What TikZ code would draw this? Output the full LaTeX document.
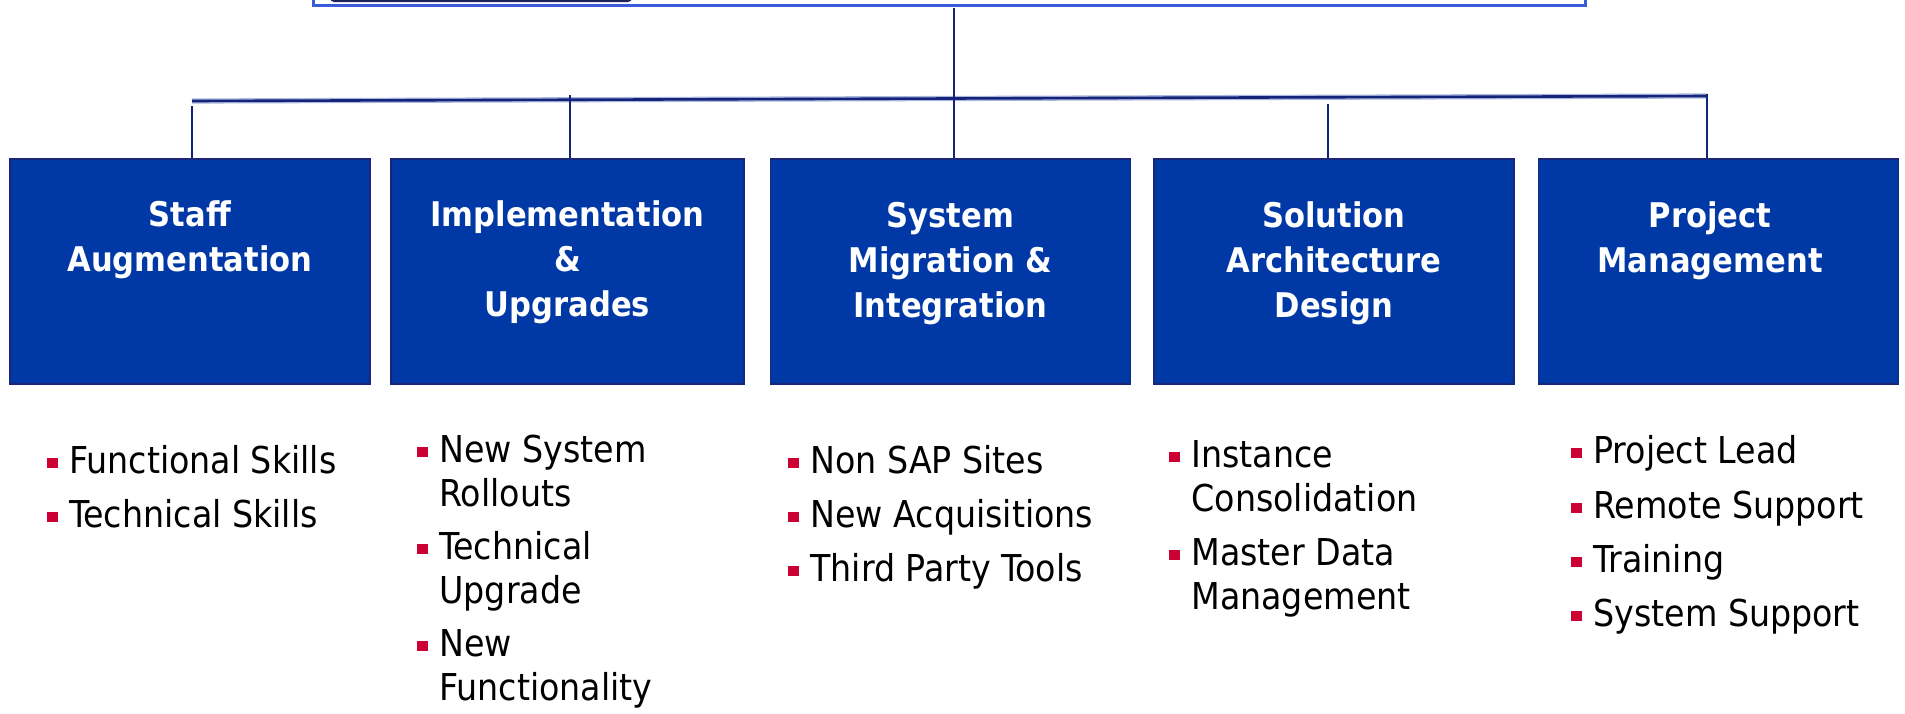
\documentclass[tikz,border=0pt]{standalone}
\usepackage{fontspec}
\setmainfont{DejaVu Sans Condensed}
\usetikzlibrary{positioning}

\definecolor{boxblue}{RGB}{0,57,166}
\definecolor{boxedge}{RGB}{26,38,120}
\definecolor{linknavy}{RGB}{20,36,122}
\definecolor{linkhalo}{RGB}{170,182,220}
\definecolor{frameblue}{RGB}{58,91,219}
\definecolor{tabshade}{RGB}{30,35,90}
\definecolor{bulred}{RGB}{204,0,51}

% red square in front of each item, and the indent of a wrapped line
\newcommand{\bul}{\makebox[11pt][l]{\textcolor{bulred}{\rule[2.3pt]{5.5pt}{5.2pt}}}}
\newcommand{\ind}{\hspace*{11pt}}

\tikzset{
  area/.style={draw=boxedge, line width=0.8pt, fill=boxblue, minimum width=180pt, minimum height=112.5pt, inner sep=0pt},
  areatitle/.style={anchor=base, inner sep=0pt, text=white, font=\fontsize{17}{22.5}\selectfont\bfseries},
  itemlist/.style={anchor=base west, inner sep=0pt, font=\fontsize{18.5}{22}\selectfont},
  link/.style={draw=linknavy, line width=1pt},
}

\begin{document}
\begin{tikzpicture}[x=0.5pt,y=-0.5pt]
      \useasboundingbox (0,0) rectangle (1905,713);
      \clip (0,0) rectangle (1905,713);

      % frame of the title above, cut off by the page
      \fill[tabshade, rounded corners=2pt] (330,-10) rectangle (632,2);
      \draw[frameblue, line width=1.5pt] (313,-20) rectangle (1585,5);

      % the five service areas
      \node[area] (b1) at (190,271.5) {};
      \node[area, minimum width=176.5pt] (b2) at (567.5,271.5) {};
      \node[area] (b3) at (950.5,271.5) {};
      \node[area] (b4) at (1334,271.5) {};
      \node[area] (b5) at (1718.5,271.5) {};

      \node[areatitle] (t1) at (190,226.5) {\begin{tabular}[t]{@{}c@{}}Staff\\Augmentation\end{tabular}};
      \node[areatitle] (t2) at (567.5,226) {\begin{tabular}[t]{@{}c@{}}Implementation\\\&\\Upgrades\end{tabular}};
      \node[areatitle] (t3) at (950.5,227) {\begin{tabular}[t]{@{}c@{}}System\\Migration \&\\Integration\end{tabular}};
      \node[areatitle] (t4) at (1334,227) {\begin{tabular}[t]{@{}c@{}}Solution\\Architecture\\Design\end{tabular}};
      \node[areatitle] (t5) at (1710,227) {\begin{tabular}[t]{@{}c@{}}Project\\Management\end{tabular}};

      % tree lines
      \coordinate (barL) at (192,101);
      \coordinate (barR) at (1707,96);
      \draw[linkhalo, line width=2.6pt] (barL) -- (barR);
      \draw[link, line width=1.3pt] (barL) -- (barR);

      \coordinate (stem) at (954,8);
      \draw[link] (stem) -- (stem |- b3.north);
      \coordinate (j1) at (192,106);
      \draw[link] (j1) -- (j1 |- b1.north);
      \coordinate (j2) at (570,95);
      \draw[link] (j2) -- (j2 |- b2.north);
      \coordinate (j4) at (1328,104);
      \draw[link] (j4) -- (j4 |- b4.north);
      \coordinate (j5) at (1707,94);
      \draw[link] (j5) -- (j5 |- b5.north);

      % what each area covers
      \node[itemlist] (l1) at (47,473) {\begin{tabular}[t]{@{}l@{}}\bul Functional Skills\\[5pt] \bul Technical Skills\end{tabular}};
      \node[itemlist] (l2) at (417,462) {\begin{tabular}[t]{@{}l@{}}\bul New System\\ \ind Rollouts\\[4.5pt] \bul Technical\\ \ind Upgrade\\[4.5pt] \bul New\\ \ind Functionality\end{tabular}};
      \node[itemlist] (l3) at (788,473) {\begin{tabular}[t]{@{}l@{}}\bul Non SAP Sites\\[5pt] \bul New Acquisitions\\[5pt] \bul Third Party Tools\end{tabular}};
      \node[itemlist] (l4) at (1169,467) {\begin{tabular}[t]{@{}l@{}}\bul Instance\\ \ind Consolidation\\[5pt] \bul Master Data\\ \ind Management\end{tabular}};
      \node[itemlist] (l5) at (1571,463) {\begin{tabular}[t]{@{}l@{}}\bul Project Lead\\[5.5pt] \bul Remote Support\\[5pt] \bul Training\\[5pt] \bul System Support\end{tabular}};
    \end{tikzpicture}
\end{document}
